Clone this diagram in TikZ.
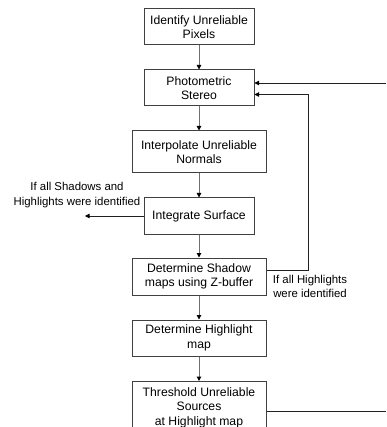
\documentclass[tikz,border=0pt]{standalone}
\usepackage{fontspec}
\setmainfont{Liberation Sans}
\usetikzlibrary{arrows.meta}
\definecolor{boxline}{HTML}{404040}
\definecolor{conn}{HTML}{707070}
\definecolor{fb}{HTML}{202020}
\begin{document}
\begin{tikzpicture}[x=1pt,y=1pt,
  stepbox/.style={draw=boxline,line width=1pt,minimum width=#1,align=center,inner sep=0pt,font=\fontsize{12.2}{14.5}\selectfont},
  flow/.style={draw=conn,line width=1pt,-{Triangle[length=4.5pt,width=4.5pt,color=black]}},
  back/.style={draw=fb,line width=0.8pt,-{Triangle[length=4.5pt,width=4.5pt,color=black]}},
  plain/.style={draw=fb,line width=0.8pt},
  lab/.style={align=center,inner sep=0pt,font=\fontsize{11.4}{14.5}\selectfont}]
\useasboundingbox (0,0) rectangle (386,-427);
\node[stepbox=110pt,minimum height=36pt] (b1) at (199,-27) {Identify Unreliable\\Pixels};
\node[stepbox=110pt,minimum height=36pt] (b2) at (199,-88) {Photometric\\Stereo};
\node[stepbox=134pt,minimum height=42pt] (b3) at (199,-152) {Interpolate Unreliable\\Normals};
\node[stepbox=110pt,minimum height=36pt] (b4) at (199,-216) {Integrate Surface};
\node[stepbox=134pt,minimum height=37pt] (b5) at (199,-276.5) {Determine Shadow\\maps using Z-buffer};
\node[stepbox=134pt,minimum height=36pt] (b6) at (199,-338) {Determine Highlight\\map};
\node[stepbox=134pt,minimum height=52pt,anchor=north] (b7) at (199,-381) {Threshold Unreliable\\Sources\\at Highlight map};
\draw[flow] (b1) -- (b2);
\draw[flow] (b2) -- (b3);
\draw[flow] (b3) -- (b4);
\draw[flow] (b4) -- (b5);
\draw[flow] (b5) -- (b6);
\draw[flow] (b6) -- (b7);
\coordinate (r1) at (386,-83);
\coordinate (r2) at (308,-94.5);
\coordinate (r3) at (386,-411);
\coordinate (l1) at (85,-216);
\draw[back] (r1) -- (r1 -| b2.east);
\draw[back] (b5.east |- 0,-270) -| (r2) -- (r2 -| b2.east);
\draw[back] (b4.west) -- (l1);
\draw[plain] (b7.east |- r3) -- (r3);
\node[lab] (t1) at (77,-195) {If all Shadows and\\Highlights were identified};
\node[lab] (t2) at (310,-286.5) {If all Highlights\\were identified};
\end{tikzpicture}
\end{document}
